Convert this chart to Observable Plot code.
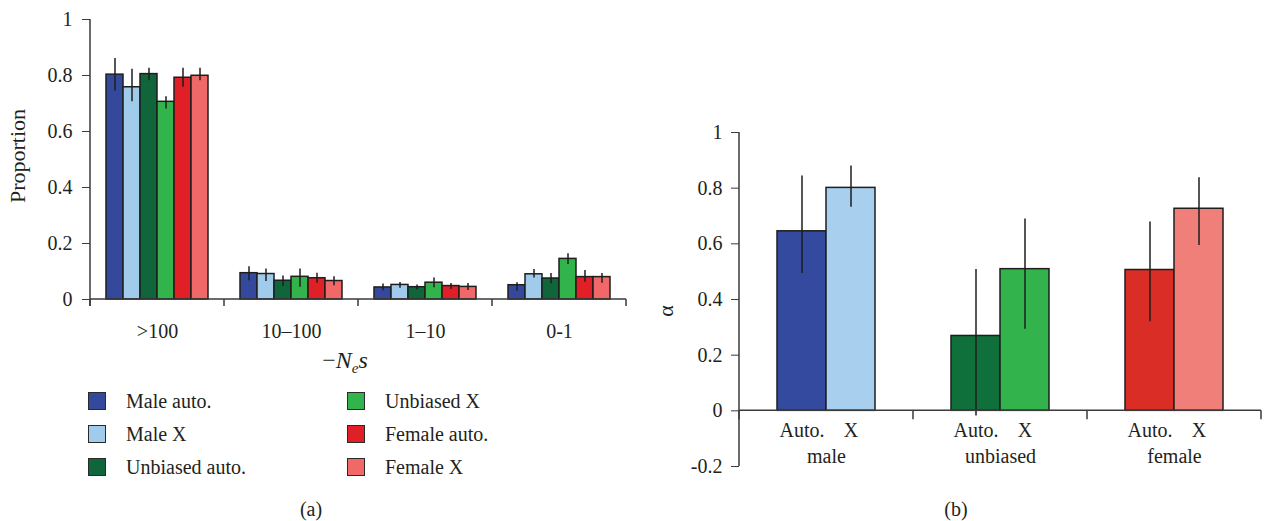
<!DOCTYPE html>
<html><head><meta charset="utf-8">
<script src="https://cdn.jsdelivr.net/npm/d3@7"></script>
<script src="https://cdn.jsdelivr.net/npm/@observablehq/plot@0.6"></script>
<style>
body{margin:0;background:#fff;}
#wrap{position:relative;width:1267px;height:521px;font-family:"Liberation Serif",serif;color:#231f20;overflow:hidden;}
#wrap svg{position:absolute;top:0;font-family:"Liberation Serif",serif !important;font-size:20px !important;color:#231f20;background:transparent;overflow:visible;}
#wrap svg text{font-family:"Liberation Serif",serif !important;}
.abs{position:absolute;white-space:nowrap;font-size:20px;line-height:1;}
.sw{position:absolute;width:18px;height:18px;box-sizing:border-box;border:1.5px solid #2a2a2a;}
</style></head><body><div id="wrap"></div>
<script>
// ---------- Panel (a) data ----------
const seriesA = ["Male auto.", "Male X", "Unbiased auto.", "Unbiased X", "Female auto.", "Female X"];
const colorsA = ["#34489c", "#a0cbea", "#11653a", "#32b34b", "#e01f26", "#f16869"];
const binsA = [">100", "10–100", "1–10", "0-1"];
// proportion per series (rows) and bin (columns)
const propMean = [
  [0.803, 0.094, 0.043, 0.051],
  [0.758, 0.091, 0.052, 0.090],
  [0.805, 0.067, 0.044, 0.075],
  [0.706, 0.081, 0.060, 0.145],
  [0.792, 0.076, 0.048, 0.080],
  [0.799, 0.066, 0.045, 0.080]
];
const propLow = [
  [0.745, 0.067, 0.031, 0.030],
  [0.706, 0.064, 0.040, 0.077],
  [0.781, 0.046, 0.035, 0.056],
  [0.680, 0.044, 0.042, 0.125],
  [0.758, 0.058, 0.036, 0.062],
  [0.781, 0.049, 0.032, 0.058]
];
const propHigh = [
  [0.861, 0.117, 0.055, 0.060],
  [0.822, 0.109, 0.061, 0.107],
  [0.826, 0.084, 0.052, 0.093],
  [0.724, 0.109, 0.077, 0.163],
  [0.826, 0.094, 0.057, 0.104],
  [0.826, 0.081, 0.057, 0.093]
];
const yTicksA = [0, 0.2, 0.4, 0.6, 0.8, 1];

// ---------- Panel (b) data ----------
const groupsB = ["male", "unbiased", "female"];
const typesB = ["Auto.", "X"];
const colorsB = [["#334a9e", "#a9cfee"], ["#10703b", "#33b34b"], ["#d92d26", "#f07f7a"]];
const alphaMean = [[0.645, 0.801], [0.269, 0.509], [0.506, 0.726]];
const alphaLow  = [[0.493, 0.731], [-0.019, 0.293], [0.320, 0.594]];
const alphaHigh = [[0.844, 0.880], [0.508, 0.689], [0.678, 0.837]];
const yTicksB = [-0.2, 0, 0.2, 0.4, 0.6, 0.8, 1];

// ---------- tables ----------
const rowsA = [];
seriesA.forEach((s, i) => binsA.forEach((b, j) => rowsA.push({
  series: s, bin: b, value: propMean[i][j], low: propLow[i][j], high: propHigh[i][j]
})));
const rowsB = [];
const keysB = [], keyColorsB = [];
groupsB.forEach((g, i) => typesB.forEach((t, j) => {
  const key = g + " " + t;
  keysB.push(key); keyColorsB.push(colorsB[i][j]);
  rowsB.push({group: g, type: t, key, value: alphaMean[i][j], low: alphaLow[i][j], high: alphaHigh[i][j]});
}));

const ink = "#231f20", line = "#3a3a3a";
const FF = "Liberation Serif";
const baseStyle = "font-family:'Liberation Serif',serif;font-size:20px;color:#231f20;background:transparent;overflow:visible;";

const left = Plot.plot({
  width: 640, height: 380,
  marginLeft: 88, marginRight: 13, marginTop: 19, marginBottom: 81,
  style: baseStyle,
  fx: {domain: binsA, padding: 0, axis: null},
  x: {domain: seriesA, paddingInner: 0, paddingOuter: 0.76, axis: null},
  y: {domain: [0, 1], axis: null},
  color: {domain: seriesA, range: colorsA},
  marks: [
    Plot.axisY({ticks: yTicksA, tickFormat: d => String(d), tickSize: 8, tickPadding: 10, label: null,
      fontFamily: FF, fontSize: 20, stroke: line, fill: ink}),
    Plot.axisFx({anchor: "bottom", tickSize: 0, tickPadding: 24, label: null, fontFamily: FF, fontSize: 20, fill: ink}),
    Plot.barY(rowsA, {fx: "bin", x: "series", y: "value", fill: "series", stroke: "#1e1e1e", strokeWidth: 1.5}),
    Plot.ruleX(rowsA, {fx: "bin", x: "series", y1: "low", y2: "high", stroke: "#1e1e1e", strokeWidth: 1.5})
  ]
});

const right = Plot.plot({
  width: 627, height: 490,
  marginLeft: 98, marginRight: 5, marginTop: 132, marginBottom: 24,
  style: baseStyle,
  fx: {domain: groupsB, padding: 0, axis: null},
  x: {domain: typesB, paddingInner: 0, paddingOuter: 0.75, axis: null},
  y: {domain: [-0.2, 1], axis: null},
  color: {domain: keysB, range: keyColorsB},
  marks: [
    Plot.axisY({ticks: yTicksB, tickFormat: d => String(d), tickSize: 8, tickPadding: 9, label: null,
      fontFamily: FF, fontSize: 20, stroke: line, fill: ink}),
    Plot.barY(rowsB, {fx: "group", x: "type", y: "value", fill: "key", stroke: "#1e1e1e", strokeWidth: 1.5}),
    Plot.ruleX(rowsB, {fx: "group", x: "type", y1: "low", y2: "high", stroke: "#1e1e1e", strokeWidth: 1.5}),
    Plot.text(rowsB, {fx: "group", x: "type", y: 0, text: "type", dy: 20, fill: ink, fontFamily: FF, fontSize: 20}),
    Plot.text(groupsB, {fx: d => d, text: d => d, frameAnchor: "bottom", dy: -4, fill: ink, fontFamily: FF, fontSize: 20})
  ]
});

// axis lines and group boundary ticks, from the plots' own scales
function axisLines(chart, yTop, yBottom, tickLen) {
  const fx = chart.scale("fx"), y = chart.scale("y");
  const bw = fx.bandwidth ?? (fx.range[1] - fx.range[0]) / fx.domain.length;
  const edges = fx.domain.map(d => fx.apply(d));
  edges.push(edges[edges.length - 1] + bw);
  const y0 = y.apply(0);
  const g = d3.select(chart).append("g").attr("stroke", line).attr("stroke-width", 1.5).attr("fill", "none");
  g.append("line").attr("x1", edges[0]).attr("x2", edges[0]).attr("y1", y.apply(yTop)).attr("y2", yBottom === 0 ? y0 + tickLen : y.apply(yBottom));
  g.append("line").attr("x1", edges[0]).attr("x2", edges[edges.length - 1]).attr("y1", y0).attr("y2", y0);
  edges.forEach(x => g.append("line").attr("x1", x).attr("x2", x).attr("y1", y0).attr("y2", y0 + tickLen));
}
axisLines(left, 1, 0, 7);
axisLines(right, 1, -0.2, 9);

const wrap = document.getElementById("wrap");
left.style.left = "0px";
right.style.left = "640px";
wrap.appendChild(left);
wrap.appendChild(right);

function place(html, x, y, rotate, size) {
  const d = document.createElement("div");
  d.className = "abs";
  d.innerHTML = html;
  d.style.left = x + "px";
  d.style.top = y + "px";
  if (size) d.style.fontSize = size + "px";
  d.style.transform = "translate(-50%,-50%)" + (rotate ? " rotate(" + rotate + "deg)" : "");
  wrap.appendChild(d);
  return d;
}
place("Proportion", 18, 156, -90, 22);
place("α", 666, 311, -90, 22);
place("−<i>N</i><sub style='font-size:15px;vertical-align:-5px'><i>e</i></sub><i>s</i>", 345, 362, 0, 24);
place("(a)", 311, 509);
place("(b)", 956, 509);

// legend built from the series arrays
seriesA.forEach((s, i) => {
  const col = Math.floor(i / 3), row = i % 3;
  const cy = 401 + row * 33;
  const sw = document.createElement("div");
  sw.className = "sw";
  sw.style.left = (col ? 347 : 88) + "px";
  sw.style.top = (cy - 9) + "px";
  sw.style.background = colorsA[i];
  wrap.appendChild(sw);
  const t = document.createElement("div");
  t.className = "abs";
  t.textContent = s;
  t.style.left = (col ? 385 : 126) + "px";
  t.style.top = cy + "px";
  t.style.transform = "translateY(-50%)";
  wrap.appendChild(t);
});
</script></body></html>
